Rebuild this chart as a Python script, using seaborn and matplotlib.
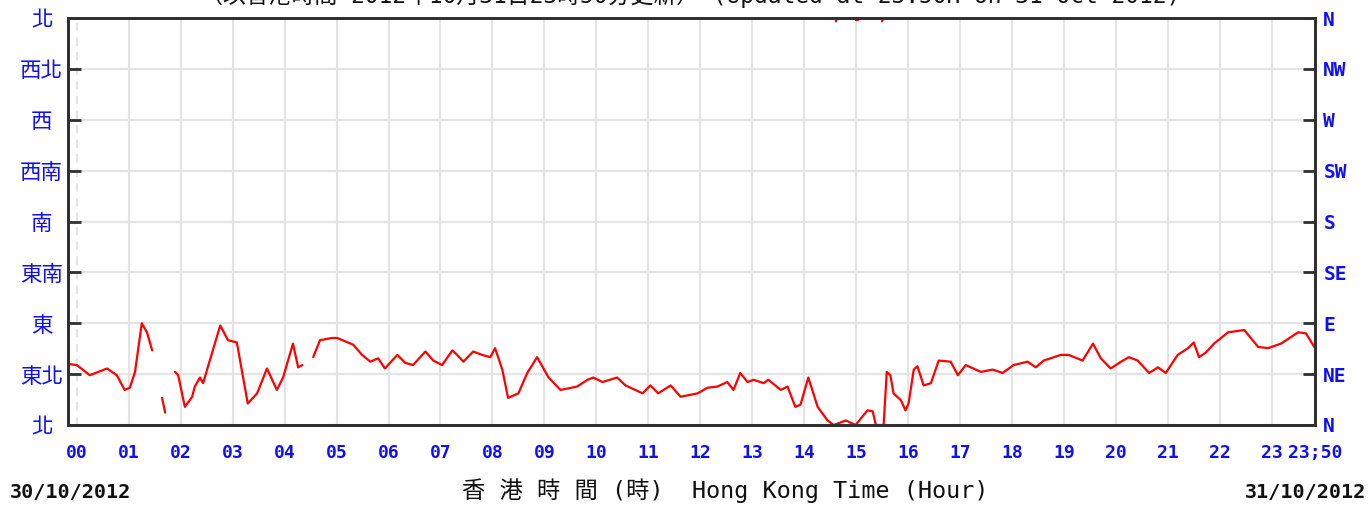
import numpy as np
import pandas as pd
import matplotlib
matplotlib.use("Agg")
import matplotlib.pyplot as plt
import seaborn as sns

# ---- data (hours since 00:00 30/10/2012, wind direction in degrees) ----
seg1_h = [-0.17, 0.00, 0.25, 0.58, 0.77, 0.92, 1.02, 1.12, 1.25, 1.35, 1.45]
seg1_v = [54, 53, 44, 50, 44, 31, 33, 47, 90, 82, 66]
seg2_h = [1.64, 1.70]
seg2_v = [24, 11]
seg3_h = [1.89, 1.95, 2.08, 2.22, 2.27, 2.37, 2.43, 2.76, 2.91, 3.08, 3.29, 3.47,
          3.66, 3.76, 3.85, 3.97, 4.16, 4.26, 4.34]
seg3_v = [47, 44, 16, 25, 34, 42, 37, 88, 75, 73, 19, 28,
          50, 40, 31, 42, 72, 51, 53]
seg4_h = [4.55, 4.68, 4.91, 5.01, 5.32, 5.49, 5.65, 5.80, 5.93, 6.17, 6.32, 6.47,
          6.71, 6.86, 7.03, 7.23, 7.32, 7.44, 7.63, 7.80, 7.96, 8.05, 8.19, 8.30,
          8.50, 8.67, 8.86, 9.08, 9.31, 9.63, 9.83, 9.94, 10.12, 10.40, 10.56, 10.89,
          11.04, 11.19, 11.43, 11.62, 11.95, 12.14, 12.33, 12.52, 12.64, 12.77, 12.91,
          13.03, 13.22, 13.31, 13.55, 13.68, 13.83, 13.93, 14.08, 14.26, 14.45, 14.57,
          14.80, 14.99, 15.22, 15.32, 15.38, 15.53, 15.59, 15.66, 15.72, 15.86, 15.95,
          16.01, 16.11, 16.18, 16.30, 16.44, 16.59, 16.82, 16.96, 17.11, 17.40, 17.63,
          17.82, 18.03, 18.30, 18.46, 18.61, 18.94, 19.09, 19.36, 19.56, 19.71, 19.90,
          20.10, 20.25, 20.42, 20.64, 20.81, 20.96, 21.19, 21.39, 21.50, 21.60, 21.73,
          21.89, 22.16, 22.47, 22.74, 22.93, 23.18, 23.51, 23.66, 23.82]
seg4_v = [60, 75, 77, 77, 71, 62, 56, 59, 50, 62, 55, 53,
          65, 57, 53, 66, 62, 56, 65, 62, 60, 68, 49, 24,
          28, 46, 60, 42, 31, 34, 40, 42, 38, 42, 35, 28,
          35, 28, 35, 25, 28, 33, 34, 38, 31, 46, 38,
          40, 37, 40, 31, 34, 16, 18, 42, 16, 4, 0,
          4, 0, 13, 12, 0, 0, 47, 44, 28, 22, 13,
          19, 49, 52, 35, 37, 57, 56, 44, 53, 47, 49,
          46, 53, 56, 51, 57, 62, 62, 57, 72, 59, 50,
          56, 60, 57, 46, 51, 46, 62, 68, 73, 60, 64,
          72, 82, 84, 69, 68, 72, 82, 81, 69]
# short wrap-around pieces shown at the top (near 360 degrees)
wrap_h = [[14.61, 14.63], [15.00, 15.04], [15.50, 15.52]]
wrap_v = [[357, 360], [358, 358], [357, 360]]

left_labels = ["北", "東北", "東", "東南", "南", "西南", "西", "西北", "北"]
right_labels = ["N", "NE", "E", "SE", "S", "SW", "W", "NW", "N"]
x_labels = [f"{h:02d}" for h in range(24)] + ["23;50"]
x_ticks = list(range(24)) + [23 + 50 / 60]
y_ticks = [0, 45, 90, 135, 180, 225, 270, 315, 360]

# ---- build long table ----
frames = []
for i, (h, v) in enumerate([(seg1_h, seg1_v), (seg2_h, seg2_v), (seg3_h, seg3_v), (seg4_h, seg4_v)]
                           + list(zip(wrap_h, wrap_v))):
    frames.append(pd.DataFrame({"hour": h, "dir": v, "seg": i}))
df = pd.concat(frames, ignore_index=True)

sns.set_style("white")
plt.rcParams["font.family"] = ["DejaVu Sans", "Noto Sans CJK TC"]

W, H = 1370, 508
fig = plt.figure(figsize=(W / 100, H / 100), dpi=100)
L, R, T, B = 68, 1315, 18, 425
ax = fig.add_axes([L / W, 1 - B / H, (R - L) / W, (B - T) / H])

blue = "#1010f0"
grid_c = "#e4e4e4"
spine_c = "#303030"

sns.lineplot(data=df, x="hour", y="dir", units="seg", estimator=None,
             color="#ff0000", linewidth=1.6, ax=ax, legend=False, sort=True)

ax.set_xlim(-0.17, 23 + 50 / 60)
ax.set_ylim(0, 360)
ax.set_xticks(x_ticks)
ax.set_xticklabels(x_labels, family="DejaVu Sans Mono", weight="bold",
                   fontsize=13, color=blue)
ax.set_yticks(y_ticks)
ax.set_yticklabels(left_labels, family=["Noto Sans CJK TC", "DejaVu Sans"],
                   fontsize=15.5, color=blue, ha="center")
ax.tick_params(axis="y", direction="in", length=9, width=2, color=spine_c, pad=19)
ax.tick_params(axis="x", direction="in", length=9, width=2, color=spine_c, pad=14)

ax.grid(True, color=grid_c, linewidth=1.5)
ax.set_axisbelow(True)
ax.get_xgridlines()[0].set_linestyle((0, (4, 3)))

for s in ax.spines.values():
    s.set_color(spine_c)
    s.set_linewidth(2)
ax.set_xlabel("")
ax.set_ylabel("")

ax2 = ax.twinx()
ax2.set_ylim(0, 360)
ax2.set_yticks(y_ticks)
ax2.set_yticklabels(right_labels, family="DejaVu Sans Mono", weight="bold",
                    fontsize=14, color=blue)
ax2.tick_params(axis="y", direction="in", length=9, width=2, color=spine_c, pad=6)
for s in ax2.spines.values():
    s.set_color(spine_c)
    s.set_linewidth(2)
ax2.grid(False)

# x label (bilingual)
fig.text(725 / W, 1 - 491 / H, "香 港 時 間 (時)  Hong Kong Time (Hour)",
         family=["DejaVu Sans Mono", "Noto Sans CJK TC"], fontsize=16.8,
         color="#111111", ha="center", va="center")
# dates
fig.text(10 / W, 1 - 492 / H, "30/10/2012", family="DejaVu Sans Mono",
         weight="bold", fontsize=14.5, color="#111111", ha="left", va="center")
fig.text(1366 / W, 1 - 492 / H, "31/10/2012", family="DejaVu Sans Mono",
         weight="bold", fontsize=14.5, color="#111111", ha="right", va="center")
# clipped update line at the very top (as in the reference)
fig.text(690 / W, 1 + 4 / H,
         "（以香港時間 2012年10月31日23時50分更新） (Updated at 23:50H on 31 Oct 2012)",
         family=["DejaVu Sans Mono", "Noto Sans CJK TC"], fontsize=16.5,
         color="#111111", ha="center", va="center")

fig.savefig("out.png", dpi=100)
